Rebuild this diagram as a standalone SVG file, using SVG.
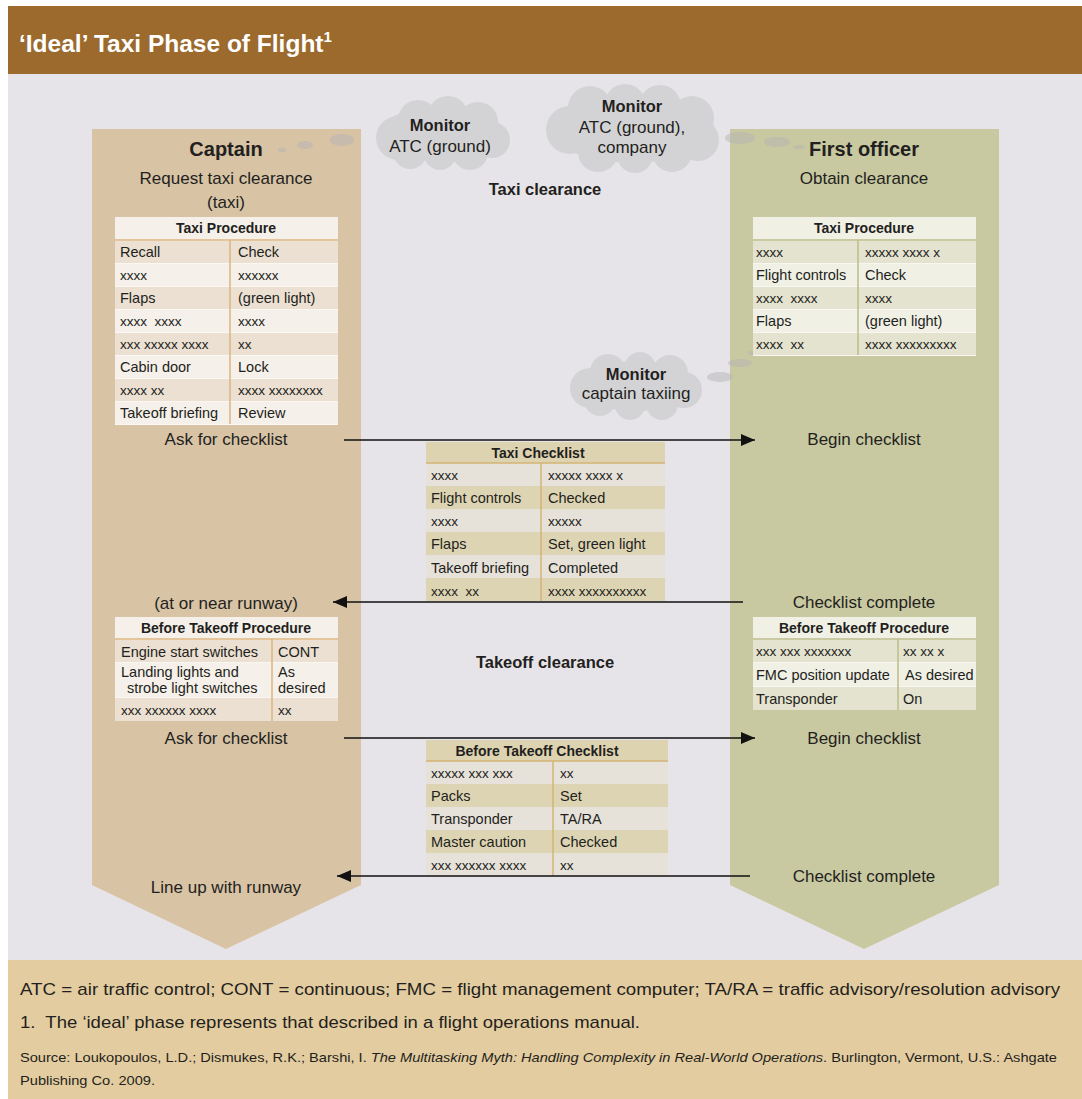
<svg xmlns="http://www.w3.org/2000/svg" width="1082" height="1099" viewBox="0 0 1082 1099">
<defs>
<style>
text{font-family:"Liberation Sans",Arial,sans-serif;fill:#231f20}
.title{font-size:24.5px;font-weight:bold;fill:#fff}
.role{font-size:20px;font-weight:bold;text-anchor:middle}
.lbl{font-size:17px;text-anchor:middle}
.blbl{font-size:16.5px;font-weight:bold;text-anchor:middle}
.th{font-size:14px;font-weight:bold;text-anchor:middle}
.td{font-size:14.5px}
.tx{font-size:13.5px}
.cloud{fill:#d3d3d5}
.bub{fill:#b4b4b4;fill-opacity:0.5}
.conn{stroke:#111;stroke-width:1.6;fill:none}
.capH{fill:#f5f0e9}.capD{fill:#ebe0d2}.capL{fill:#f5f0e9}.capLine{stroke:#dcb57f;stroke-width:1.5}
.foH{fill:#f0f0e5}.foD{fill:#e3e3cf}.foL{fill:#f0f0e5}.foLine{stroke:#bcbc8a;stroke-width:1.5}
.mH{fill:#ddd3b0}.mD{fill:#ddd4b3}.mL{fill:#e6e2da}.mLine{stroke:#d3b474;stroke-width:1.5}
.foot{font-size:17px}
.src{font-size:13px}
</style>
<marker id="ah" markerWidth="14" markerHeight="12" refX="14" refY="6" orient="auto" markerUnits="userSpaceOnUse">
<path d="M0,0 L14,6 L0,12 Z" fill="#111"/>
</marker>
</defs>

<rect x="0" y="0" width="1082" height="1099" fill="#ffffff"/>
<rect x="8" y="74" width="1074" height="886" fill="#e6e4e8"/>
<g id="header">
<rect x="8" y="6" width="1074" height="68" fill="#9b6a2c"/>
<text class="title" x="19" y="52">‘Ideal’ Taxi Phase of Flight<tspan font-size="15" dy="-10">1</tspan></text>
</g>

<g id="captain-lane">
<path d="M92,129 H361 V885 L226,949 L92,885 Z" fill="#d8c3a5"/>
<text class="role" x="226" y="156">Captain</text>
<text class="lbl" x="226" y="184">Request taxi clearance</text>
<text class="lbl" x="226" y="208">(taxi)</text>
</g>

<g id="fo-lane">
<path d="M730,129 H999 V885 L864,949 L730,885 Z" fill="#c8c9a0"/>
<text class="role" x="864" y="156">First officer</text>
<text class="lbl" x="864" y="184">Obtain clearance</text>
</g>

<g id="cloud-atc-ground">
<g class="cloud">
<ellipse cx="442" cy="134" rx="62" ry="28"/>
<circle cx="398" cy="138" r="22"/><circle cx="418" cy="120" r="20"/><circle cx="448" cy="116" r="20"/>
<circle cx="478" cy="122" r="20"/><circle cx="492" cy="140" r="18"/><circle cx="470" cy="152" r="18"/>
<circle cx="440" cy="154" r="16"/><circle cx="410" cy="152" r="17"/>
</g>
<text class="blbl" x="440" y="131">Monitor</text>
<text class="lbl" x="440" y="152">ATC (ground)</text>
</g>

<g id="cloud-atc-company">
<g class="cloud">
<ellipse cx="632" cy="128" rx="82" ry="35"/>
<circle cx="570" cy="130" r="24"/><circle cx="590" cy="108" r="22"/><circle cx="625" cy="104" r="20"/>
<circle cx="660" cy="106" r="21"/><circle cx="692" cy="118" r="22"/><circle cx="698" cy="140" r="21"/>
<circle cx="672" cy="152" r="20"/><circle cx="635" cy="155" r="18"/><circle cx="598" cy="152" r="20"/>
</g>
<text class="blbl" x="632" y="112">Monitor</text>
<text class="lbl" x="632" y="133">ATC (ground),</text>
<text class="lbl" x="632" y="153">company</text>
</g>

<g id="cloud-captain-taxiing">
<g class="cloud">
<ellipse cx="636" cy="386" rx="60" ry="25"/>
<circle cx="590" cy="388" r="20"/><circle cx="608" cy="372" r="18"/><circle cx="640" cy="368" r="16"/>
<circle cx="670" cy="373" r="18"/><circle cx="684" cy="390" r="18"/><circle cx="662" cy="404" r="16"/>
<circle cx="630" cy="405" r="15"/><circle cx="600" cy="400" r="16"/>
</g>
<text class="blbl" x="636" y="380">Monitor</text>
<text class="lbl" x="636" y="399">captain taxiing</text>
</g>

<g id="thought-bubbles">
<ellipse class="bub" cx="282" cy="150" rx="4" ry="2"/>
<ellipse class="bub" cx="305" cy="145" rx="8" ry="4"/>
<ellipse class="bub" cx="342" cy="140" rx="12" ry="6"/>
<ellipse class="bub" cx="740" cy="138" rx="15" ry="6"/>
<ellipse class="bub" cx="777" cy="142" rx="13" ry="5"/>
<ellipse class="bub" cx="799" cy="147" rx="6" ry="2"/>
<ellipse class="bub" cx="720" cy="377" rx="13" ry="5"/>
<ellipse class="bub" cx="740" cy="363" rx="12" ry="4"/>
<ellipse class="bub" cx="753" cy="353" rx="5" ry="2"/>
</g>

<g id="taxi-clearance"><text class="blbl" x="545" y="195">Taxi clearance</text></g>
<g id="takeoff-clearance"><text class="blbl" x="545" y="668">Takeoff clearance</text></g>

<g id="captain-taxi-procedure">
<rect x="115" y="217" width="223" height="208" fill="#faf7f2"/>
<rect class="capH" x="115" y="217" width="223" height="23"/>
<rect class="capD" x="115" y="241" width="223" height="22"/>
<rect class="capL" x="115" y="264" width="223" height="22"/>
<rect class="capD" x="115" y="287" width="223" height="22"/>
<rect class="capL" x="115" y="310" width="223" height="22"/>
<rect class="capD" x="115" y="333" width="223" height="22"/>
<rect class="capL" x="115" y="356" width="223" height="22"/>
<rect class="capD" x="115" y="379" width="223" height="22"/>
<rect class="capL" x="115" y="402" width="223" height="22"/>
<line class="capLine" x1="115" y1="240" x2="338" y2="240"/>
<line class="capLine" x1="230" y1="240" x2="230" y2="424"/>
<text class="th" x="226" y="233">Taxi Procedure</text>
<text class="td" x="120" y="257">Recall</text><text class="td" x="238" y="257">Check</text>
<text class="tx" x="120" y="280">xxxx</text><text class="tx" x="238" y="280">xxxxxx</text>
<text class="td" x="120" y="303">Flaps</text><text class="td" x="238" y="303">(green light)</text>
<text class="tx" x="120" y="326" xml:space="preserve">xxxx  xxxx</text><text class="tx" x="238" y="326">xxxx</text>
<text class="tx" x="120" y="349">xxx xxxxx xxxx</text><text class="tx" x="238" y="349">xx</text>
<text class="td" x="120" y="372">Cabin door</text><text class="td" x="238" y="372">Lock</text>
<text class="tx" x="120" y="395">xxxx xx</text><text class="tx" x="238" y="395">xxxx xxxxxxxx</text>
<text class="td" x="120" y="418">Takeoff briefing</text><text class="td" x="238" y="418">Review</text>
</g>

<g id="fo-taxi-procedure">
<rect x="753" y="217" width="223" height="139" fill="#f7f7ef"/>
<rect class="foH" x="753" y="217" width="223" height="23"/>
<rect class="foD" x="753" y="241" width="223" height="22"/>
<rect class="foL" x="753" y="264" width="223" height="22"/>
<rect class="foD" x="753" y="287" width="223" height="22"/>
<rect class="foL" x="753" y="310" width="223" height="22"/>
<rect class="foD" x="753" y="333" width="223" height="22"/>
<line class="foLine" x1="753" y1="240" x2="976" y2="240"/>
<line class="foLine" x1="858" y1="240" x2="858" y2="355"/>
<text class="th" x="864" y="233">Taxi Procedure</text>
<text class="tx" x="756" y="257">xxxx</text><text class="tx" x="865" y="257">xxxxx xxxx x</text>
<text class="td" x="756" y="280">Flight controls</text><text class="td" x="865" y="280">Check</text>
<text class="tx" x="756" y="303" xml:space="preserve">xxxx  xxxx</text><text class="tx" x="865" y="303">xxxx</text>
<text class="td" x="756" y="326">Flaps</text><text class="td" x="865" y="326">(green light)</text>
<text class="tx" x="756" y="349" xml:space="preserve">xxxx  xx</text><text class="tx" x="865" y="349">xxxx xxxxxxxxx</text>
</g>

<g id="taxi-checklist">
<rect class="mH" x="426" y="442" width="239" height="21"/>
<rect class="mL" x="426" y="463" width="239" height="23"/>
<rect class="mD" x="426" y="486" width="239" height="23"/>
<rect class="mL" x="426" y="509" width="239" height="23"/>
<rect class="mD" x="426" y="532" width="239" height="23"/>
<rect class="mL" x="426" y="555" width="239" height="23"/>
<rect class="mD" x="426" y="578" width="239" height="23"/>
<line class="mLine" x1="426" y1="463" x2="665" y2="463"/>
<line class="mLine" x1="541" y1="463" x2="541" y2="601"/>
<text class="th" x="538" y="458">Taxi Checklist</text>
<text class="tx" x="431" y="480">xxxx</text><text class="tx" x="548" y="480">xxxxx xxxx x</text>
<text class="td" x="431" y="503">Flight controls</text><text class="td" x="548" y="503">Checked</text>
<text class="tx" x="431" y="526">xxxx</text><text class="tx" x="548" y="526">xxxxx</text>
<text class="td" x="431" y="549">Flaps</text><text class="td" x="548" y="549">Set, green light</text>
<text class="td" x="431" y="573">Takeoff briefing</text><text class="td" x="548" y="573">Completed</text>
<text class="tx" x="431" y="596" xml:space="preserve">xxxx  xx</text><text class="tx" x="548" y="596">xxxx xxxxxxxxxx</text>
</g>

<g id="captain-checklist-labels">
<text class="lbl" x="226" y="445">Ask for checklist</text>
<text class="lbl" x="226" y="609">(at or near runway)</text>
<text class="lbl" x="226" y="744">Ask for checklist</text>
<text class="lbl" x="226" y="893">Line up with runway</text>
</g>
<g id="fo-checklist-labels">
<text class="lbl" x="864" y="445">Begin checklist</text>
<text class="lbl" x="864" y="608">Checklist complete</text>
<text class="lbl" x="864" y="744">Begin checklist</text>
<text class="lbl" x="864" y="882">Checklist complete</text>
</g>

<g id="captain-before-takeoff-procedure">
<rect x="115" y="617" width="223" height="104" fill="#faf7f2"/>
<rect class="capH" x="115" y="617" width="223" height="22"/>
<rect class="capD" x="115" y="640" width="223" height="22"/>
<rect class="capL" x="115" y="663" width="223" height="34"/>
<rect class="capD" x="115" y="698" width="223" height="23"/>
<line class="capLine" x1="115" y1="639" x2="338" y2="639"/>
<line class="capLine" x1="272" y1="639" x2="272" y2="721"/>
<text class="th" x="226" y="633">Before Takeoff Procedure</text>
<text class="td" x="121" y="657">Engine start switches</text><text class="td" x="278" y="657">CONT</text>
<text class="td" x="121" y="677">Landing lights and</text><text class="td" x="278" y="677">As</text>
<text class="td" x="127" y="693">strobe light switches</text><text class="td" x="278" y="693">desired</text>
<text class="tx" x="121" y="715">xxx xxxxxx xxxx</text><text class="tx" x="278" y="715">xx</text>
</g>

<g id="fo-before-takeoff-procedure">
<rect x="753" y="617" width="223" height="93" fill="#f7f7ef"/>
<rect class="foH" x="753" y="617" width="223" height="22"/>
<rect class="foD" x="753" y="640" width="223" height="22"/>
<rect class="foL" x="753" y="663" width="223" height="23"/>
<rect class="foD" x="753" y="687" width="223" height="23"/>
<line class="foLine" x1="753" y1="639" x2="976" y2="639"/>
<line class="foLine" x1="898" y1="639" x2="898" y2="710"/>
<text class="th" x="864" y="633">Before Takeoff Procedure</text>
<text class="tx" x="756" y="656">xxx xxx xxxxxxx</text><text class="tx" x="903" y="656">xx xx x</text>
<text class="td" x="756" y="680">FMC position update</text><text class="td" x="905" y="680">As desired</text>
<text class="td" x="756" y="704">Transponder</text><text class="td" x="903" y="704">On</text>
</g>

<g id="before-takeoff-checklist">
<rect class="mH" x="426" y="740" width="242" height="21"/>
<rect class="mL" x="426" y="761" width="242" height="23"/>
<rect class="mD" x="426" y="784" width="242" height="23"/>
<rect class="mL" x="426" y="807" width="242" height="23"/>
<rect class="mD" x="426" y="830" width="242" height="23"/>
<rect class="mL" x="426" y="853" width="242" height="23"/>
<line class="mLine" x1="426" y1="761" x2="668" y2="761"/>
<line class="mLine" x1="553" y1="761" x2="553" y2="876"/>
<text class="th" x="537" y="756">Before Takeoff Checklist</text>
<text class="tx" x="431" y="778">xxxxx xxx xxx</text><text class="tx" x="560" y="778">xx</text>
<text class="td" x="431" y="801">Packs</text><text class="td" x="560" y="801">Set</text>
<text class="td" x="431" y="824">Transponder</text><text class="td" x="560" y="824">TA/RA</text>
<text class="td" x="431" y="847">Master caution</text><text class="td" x="560" y="847">Checked</text>
<text class="tx" x="431" y="870">xxx xxxxxx xxxx</text><text class="tx" x="560" y="870">xx</text>
</g>

<g id="connectors">
<line class="conn" x1="344" y1="440" x2="755" y2="440" marker-end="url(#ah)"/>
<line class="conn" x1="743" y1="602" x2="333" y2="602" marker-end="url(#ah)"/>
<line class="conn" x1="344" y1="738" x2="755" y2="738" marker-end="url(#ah)"/>
<line class="conn" x1="750" y1="876" x2="337" y2="876" marker-end="url(#ah)"/>
</g>

<g id="footer">
<rect x="8" y="960" width="1074" height="139" fill="#e3cc9f"/>
<text class="foot" x="20" y="995" textLength="1040" lengthAdjust="spacingAndGlyphs">ATC = air traffic control; CONT = continuous; FMC = flight management computer; TA/RA = traffic advisory/resolution advisory</text>
<text class="foot" x="20" y="1028" textLength="620" lengthAdjust="spacingAndGlyphs" xml:space="preserve">1.  The ‘ideal’ phase represents that described in a flight operations manual.</text>
<text class="src" x="20" y="1062" textLength="1037" lengthAdjust="spacingAndGlyphs">Source: Loukopoulos, L.D.; Dismukes, R.K.; Barshi, I. <tspan font-style="italic">The Multitasking Myth: Handling Complexity in Real-World Operations</tspan>. Burlington, Vermont, U.S.: Ashgate</text>
<text class="src" x="20" y="1085" textLength="135" lengthAdjust="spacingAndGlyphs">Publishing Co. 2009.</text>
</g>
</svg>
